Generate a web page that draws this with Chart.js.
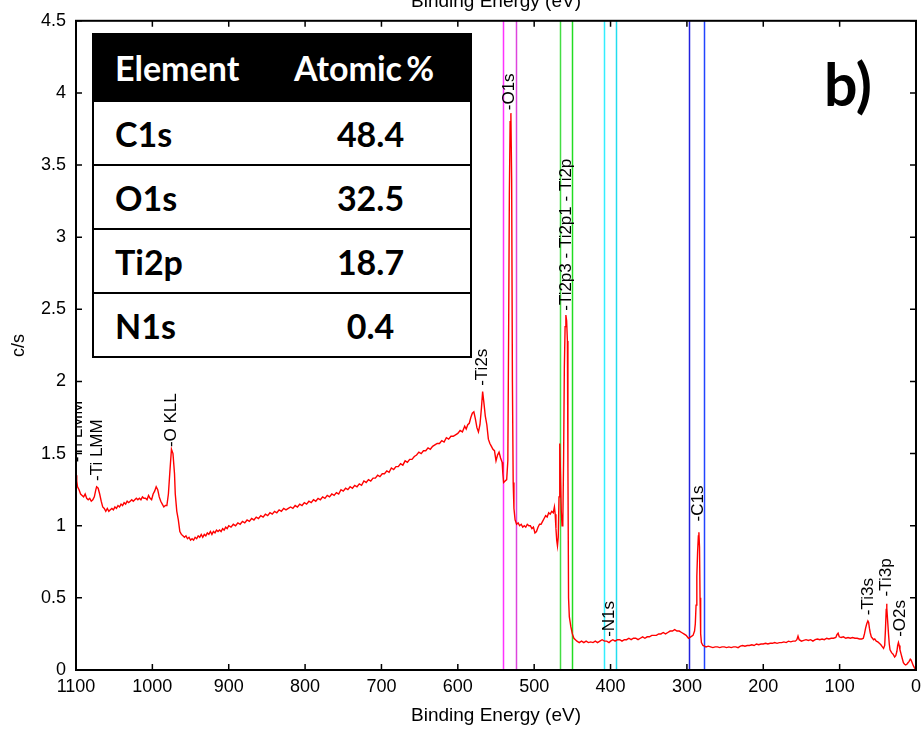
<!DOCTYPE html>
<html><head><meta charset="utf-8">
<script src="https://cdn.jsdelivr.net/npm/chart.js@4.4.1/dist/chart.umd.min.js"></script>
<style>
html,body{margin:0;padding:0;background:#fff;overflow:hidden;}
#wrap{position:relative;width:924px;height:731px;}
#c{position:absolute;left:0;top:0;}
#tbl{position:absolute;left:92px;top:33px;width:376px;border:2px solid #000;font-family:Lato,"Open Sans",sans-serif;font-weight:bold;font-size:34px;color:#000;background:#fff;}
.row{display:flex;align-items:center;height:62px;border-top:2px solid #000;}
.row.h{height:65px;border-top:none;background:#000;color:#fff;}
.c1{width:185px;padding-left:21px;box-sizing:border-box;}
.c2{width:183px;text-align:center;}
.h .c2{width:170px;word-spacing:-4px;}
#lbl{position:absolute;left:824px;top:54px;font-family:Lato,sans-serif;font-weight:bold;font-size:59px;line-height:1;color:#000;}
</style></head>
<body><div id="wrap"><canvas id="c" width="924" height="731"></canvas>
<div id="tbl"></div>
<div id="lbl">b)</div></div>
<script>
// ---- data ----
const energy = [1100,1099,1098,1096,1094,1092,1090,1088,1086,1084,1082,1080,1078,1076,1074,1073,1071,1069,1067,1065,1063,1061,1059,1057,1055,1053,1051,1049,1047,1045,1043,1041,1039,1037,1035,1033,1031,1029,1027,1025,1023,1021,1019,1017,1015,1013,1011,1009,1007,1005,1003,1001,999,997,995,993,991,989,987,985,983,981,979,977,975,973,971,970,968,966,964,962,960,958,956,954,952,950,948,946,944,942,940,938,936,934,932,930,928,926,924,922,920,918,916,914,912,910,908,906,904,902,900,897,894,891,888,885,882,879,876,873,870,867,864,861,858,855,852,849,846,843,840,837,834,831,828,825,822,819,816,813,810,807,804,801,798,795,792,789,786,783,780,777,774,771,768,765,762,759,756,753,750,747,744,741,738,735,732,729,726,723,720,717,714,711,708,705,702,699,696,693,690,687,684,681,678,675,672,669,666,663,660,657,654,651,648,645,642,639,636,633,630,627,624,621,618,615,612,609,606,603,600,597,594,591,589,587,585,583,581,579,577,575,573,571,569,567.5,566,564,562,560,558,556,554,552,550,548,546,544,542,541,540,538,536,534.5,533.5,532.5,531.5,530.5,529.5,528.5,527.5,526.5,525,523,521,519,517,515,513,511,509,507,505,503,501,499,497,495,493,491,489,487,485,483,481,479,477,475,473.5,472.5,471.5,470.5,469.5,468.5,467.5,466.5,465.5,464.5,463.5,462.5,461.5,460.5,459.5,458.5,457.5,456.5,455.8,455,454,452,450,448,446,444,441,438,435,432,429,426,423,420,417,414,411,408,405,402,400,397,394,391,388,385,382,379,376,373,370,367,364,361,358,355,352,349,346,343,340,337,334,331,328,325,322,319,316,313,310,307,304,301,298,295,292,290,289,288,287,286,285,284.3,283.5,282.8,282,281,279,277,275,272,269,266,263,260,257,254,251,248,245,242,239,236,233,230,227,224,221,218,215,212,209,206,203,200,197,194,191,188,185,182,179,176,173,170,167,164,161,158,156,154.5,153,150,147,144,141,138,135,132,129,126,123,120,117,114,111,108,105,103.5,102,100.5,98,95,92,89,86,83,80,77,74,71,69,67.5,66,64.5,63,62,61,60,58.5,57,55.5,54,52,50,48,46,44,42.5,41,40,39,38.5,38,37,36,35,34,32,30,28,26.5,25,24,23,22,21,19.5,18,16.5,15,13.5,12,10.5,9,7.5,6.5,5,3.5,2,0.5,0];
const counts = [1.35,1.31,1.27,1.25,1.22,1.21,1.20,1.22,1.19,1.18,1.19,1.17,1.18,1.20,1.25,1.27,1.26,1.22,1.17,1.13,1.12,1.10,1.12,1.10,1.11,1.12,1.11,1.13,1.12,1.14,1.13,1.15,1.14,1.16,1.15,1.17,1.16,1.17,1.18,1.17,1.18,1.19,1.18,1.19,1.18,1.20,1.19,1.19,1.18,1.21,1.19,1.18,1.22,1.24,1.27,1.25,1.20,1.17,1.15,1.13,1.14,1.14,1.22,1.38,1.53,1.50,1.36,1.22,1.10,1.04,0.96,0.94,0.93,0.92,0.93,0.91,0.92,0.90,0.91,0.90,0.92,0.91,0.93,0.92,0.94,0.92,0.94,0.93,0.95,0.94,0.96,0.94,0.96,0.95,0.97,0.96,0.97,0.96,0.98,0.97,0.99,0.98,1.00,0.99,1.01,1.00,1.02,1.01,1.03,1.02,1.04,1.03,1.05,1.04,1.06,1.05,1.07,1.06,1.08,1.07,1.09,1.08,1.10,1.09,1.11,1.10,1.12,1.11,1.12,1.13,1.12,1.14,1.13,1.15,1.14,1.16,1.15,1.17,1.16,1.18,1.17,1.19,1.18,1.20,1.19,1.21,1.20,1.22,1.21,1.23,1.22,1.25,1.24,1.26,1.25,1.27,1.26,1.28,1.27,1.29,1.28,1.31,1.30,1.32,1.31,1.33,1.33,1.35,1.34,1.36,1.36,1.38,1.37,1.40,1.39,1.41,1.41,1.43,1.42,1.45,1.44,1.46,1.46,1.48,1.49,1.51,1.50,1.52,1.52,1.54,1.53,1.55,1.56,1.57,1.57,1.59,1.58,1.61,1.60,1.62,1.62,1.63,1.64,1.66,1.65,1.69,1.67,1.70,1.71,1.75,1.78,1.79,1.74,1.68,1.65,1.70,1.82,1.93,1.86,1.76,1.70,1.60,1.57,1.55,1.53,1.52,1.45,1.49,1.51,1.47,1.44,1.36,1.30,1.31,1.32,1.45,2.30,3.30,3.80,3.86,3.40,2.00,1.30,1.12,1.04,1.01,1.02,1.00,1.01,0.99,1.00,0.99,1.01,1.00,1.00,0.98,0.99,0.95,0.96,0.99,1.01,1.01,1.03,1.05,1.07,1.06,1.09,1.08,1.10,1.09,1.13,1.08,0.98,0.90,0.86,0.92,1.20,1.57,1.35,1.10,1.00,1.02,1.45,2.10,2.38,2.46,2.42,2.28,1.40,0.50,0.37,0.30,0.25,0.22,0.21,0.20,0.19,0.20,0.19,0.20,0.19,0.195,0.19,0.20,0.19,0.20,0.21,0.20,0.20,0.19,0.20,0.21,0.20,0.21,0.21,0.20,0.21,0.21,0.22,0.21,0.22,0.22,0.21,0.22,0.23,0.22,0.23,0.23,0.24,0.24,0.24,0.25,0.25,0.26,0.25,0.26,0.27,0.27,0.28,0.27,0.27,0.26,0.25,0.24,0.22,0.23,0.24,0.27,0.32,0.45,0.65,0.82,0.93,0.955,0.85,0.50,0.25,0.19,0.17,0.165,0.16,0.165,0.16,0.155,0.16,0.16,0.155,0.16,0.16,0.155,0.16,0.155,0.16,0.16,0.155,0.165,0.17,0.165,0.17,0.17,0.175,0.17,0.18,0.175,0.18,0.18,0.185,0.18,0.185,0.185,0.19,0.185,0.19,0.19,0.195,0.19,0.20,0.195,0.20,0.20,0.21,0.235,0.21,0.20,0.205,0.21,0.205,0.21,0.20,0.21,0.215,0.21,0.215,0.21,0.22,0.215,0.22,0.22,0.225,0.245,0.255,0.23,0.225,0.23,0.22,0.225,0.22,0.225,0.22,0.22,0.215,0.215,0.22,0.25,0.29,0.32,0.34,0.33,0.29,0.26,0.23,0.22,0.21,0.215,0.20,0.195,0.185,0.175,0.16,0.15,0.17,0.28,0.42,0.46,0.43,0.33,0.25,0.18,0.14,0.12,0.11,0.09,0.10,0.13,0.17,0.19,0.17,0.14,0.11,0.08,0.05,0.04,0.035,0.04,0.05,0.06,0.075,0.07,0.05,0.03,0.015,0.005,0];

const xTicks = [0,100,200,300,400,500,600,700,800,900,1000,1100];
const yTicks = [0,0.5,1,1.5,2,2.5,3,3.5,4,4.5];

// region marker energies (eV)
const regionLines = [541, 524, 466, 450, 409, 392.5, 297.3, 277.6];
// peak annotations: name, energy (eV), intensity (c/s)
const peakNames = ['-O1s','-Ti2p3 - Ti2p1 - Ti2p','-Ti2s','-O KLL','-Ti LMM','-Ti LMM','-N1s','-C1s','-Ti3s','-Ti3p','-O2s'];
const peakEnergy = [532, 458.4, 567.7, 975, 1072.5, 1098, 401, 285, 62.5, 38.5, 21];
const peakCounts = [3.88, 2.49, 1.97, 1.545, 1.31, 1.44, 0.23, 1.03, 0.38, 0.51, 0.23];

// composition table
const tableElements = ['C1s','O1s','Ti2p','N1s'];
const tableAtomic = ['48.4','32.5','18.7','0.4'];
const tableHeader = ['Element','Atomic %'];

// ---- styles ----
const regionColors = ['#ff33ff','#dd44dd','#44dd44','#22dd22','#33eeff','#22ddee','#2222dd','#2244ff'];
const FONT = '"Liberation Sans", Arial, sans-serif';

// table
(function(){
  const t = document.getElementById('tbl');
  let h = '<div class="row h"><div class="c1">'+tableHeader[0]+'</div><div class="c2">'+tableHeader[1]+'</div></div>';
  tableElements.forEach((e,i)=>{ h += '<div class="row"><div class="c1">'+e+'</div><div class="c2">'+tableAtomic[i]+'</div></div>'; });
  t.innerHTML = h;
})();

const deco = {
  id:'deco',
  beforeDatasetsDraw(c){
    const {ctx, chartArea:a, scales:{x}} = c;
    ctx.save();
    regionLines.forEach((e,i)=>{
      const px = Math.round(x.getPixelForValue(e))+0.5;
      ctx.strokeStyle = regionColors[i]; ctx.lineWidth = 1.5;
      ctx.beginPath(); ctx.moveTo(px,a.top); ctx.lineTo(px,a.bottom); ctx.stroke();
    });
    ctx.restore();
  },
  afterDatasetsDraw(c){
    const {ctx, chartArea:a, scales:{x,y}} = c;
    ctx.save();
    ctx.beginPath(); ctx.rect(a.left,a.top,a.right-a.left,a.bottom-a.top); ctx.clip();
    ctx.fillStyle = '#000'; ctx.font = '17px '+FONT;
    ctx.textAlign='left'; ctx.textBaseline='middle';
    peakNames.forEach((n,i)=>{
      ctx.save();
      ctx.translate(x.getPixelForValue(peakEnergy[i]), y.getPixelForValue(peakCounts[i]));
      ctx.rotate(-Math.PI/2);
      ctx.fillText(n,0,0);
      ctx.restore();
    });
    ctx.restore();
    // frame
    ctx.save();
    ctx.strokeStyle='#000'; ctx.lineWidth=2;
    ctx.strokeRect(a.left,a.top,a.right-a.left,a.bottom-a.top);
    ctx.lineWidth=1.5;
    const L=6;
    x.ticks.forEach(t=>{
      const px = x.getPixelForValue(t.value);
      ctx.beginPath(); ctx.moveTo(px,a.bottom); ctx.lineTo(px,a.bottom-L);
      ctx.moveTo(px,a.top); ctx.lineTo(px,a.top+L); ctx.stroke();
    });
    y.ticks.forEach(t=>{
      const py = y.getPixelForValue(t.value);
      ctx.beginPath(); ctx.moveTo(a.left,py); ctx.lineTo(a.left+L,py);
      ctx.moveTo(a.right,py); ctx.lineTo(a.right-L,py); ctx.stroke();
    });
    // mirrored top axis title (cut off by the page edge)
    ctx.fillStyle='#000'; ctx.font='19px '+FONT; ctx.textAlign='center'; ctx.textBaseline='alphabetic';
    ctx.fillText(x.options.title.text,(a.left+a.right)/2,a.top-14);
    ctx.restore();
  }
};

new Chart(document.getElementById('c'),{
  type:'line',
  data:{datasets:[{data:energy.map((e,i)=>({x:e,y:counts[i]})),borderColor:'#ff0000',borderWidth:1.4,pointRadius:0,tension:0,fill:false}]},
  options:{
    responsive:false, animation:false, events:[],
    layout:{padding:{top:15,right:8,left:0,bottom:0}},
    plugins:{legend:{display:false},tooltip:{enabled:false}},
    scales:{
      x:{type:'linear',reverse:true,min:0,max:1100,
        afterFit(s){s.height=61;},
        afterBuildTicks(s){s.ticks=xTicks.map(v=>({value:v}));},
        ticks:{font:{family:FONT,size:18},color:'#000',padding:6,maxRotation:0,autoSkip:false,callback:v=>String(v)},
        grid:{display:false,drawTicks:false},border:{display:false},
        title:{display:true,text:'Binding Energy (eV)',font:{family:FONT,size:19},color:'#000',padding:{top:0,bottom:4}}},
      y:{min:0,max:4.5,
        afterFit(s){s.width=76;},
        afterBuildTicks(s){s.ticks=yTicks.map(v=>({value:v}));},
        ticks:{font:{family:FONT,size:18},color:'#000',padding:10,autoSkip:false,callback:v=>String(v)},
        grid:{display:false,drawTicks:false},border:{display:false},
        title:{display:true,text:'c/s',font:{family:FONT,size:18},color:'#000',padding:{top:8,bottom:0}}}
    }
  },
  plugins:[deco]
});
</script></body></html>
